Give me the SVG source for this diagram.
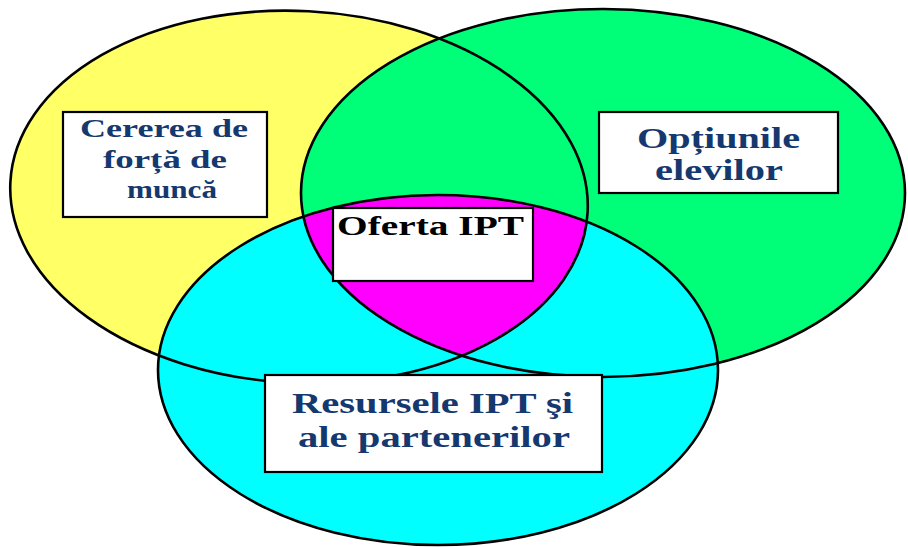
<svg xmlns="http://www.w3.org/2000/svg" width="908" height="547" viewBox="0 0 908 547">
<style>
.ol{fill:none;stroke:#000;stroke-width:2.6}
.box{fill:#fff;stroke:#000;stroke-width:2.2}
.t{font-family:"Liberation Serif","Times New Roman",serif;font-weight:bold;fill:#15386f}
.tk{font-family:"Liberation Serif","Times New Roman",serif;font-weight:bold;fill:#000}
</style>
<defs>
<ellipse id="eY" cx="299" cy="197" rx="289" ry="186" transform="rotate(3 299 197)"/>
<ellipse id="eG" cx="603" cy="193" rx="302" ry="184"/>
<ellipse id="eC" cx="438" cy="370" rx="280" ry="175"/>
<clipPath id="clipY"><use href="#eY"/></clipPath>
<clipPath id="clipG"><use href="#eG"/></clipPath>
</defs>
<rect width="908" height="547" fill="#fff"/>
<g id="circle-yellow"><use href="#eY" fill="#ffff66"/></g>
<g id="circle-green"><use href="#eG" fill="#00ff78"/></g>
<g id="circle-cyan"><use href="#eC" fill="#00ffff"/></g>
<g id="overlap-center" clip-path="url(#clipG)"><g clip-path="url(#clipY)"><use href="#eC" fill="#ff00ff"/></g></g>
<g id="outlines">
<use href="#eY" class="ol"/>
<use href="#eG" class="ol"/>
<use href="#eC" class="ol"/>
</g>
<g id="node-cererea">
<rect class="box" x="63" y="112" width="204" height="105"/>
<text class="t" font-size="26" x="80" y="137" textLength="168" lengthAdjust="spacingAndGlyphs">Cererea de</text>
<text class="t" font-size="26" x="103" y="168" textLength="124" lengthAdjust="spacingAndGlyphs">forță de</text>
<text class="t" font-size="26" x="127" y="198" textLength="90" lengthAdjust="spacingAndGlyphs">muncă</text>
</g>
<g id="node-optiunile">
<rect class="box" x="599" y="112" width="239" height="81"/>
<text class="t" font-size="29" x="637" y="148" textLength="163" lengthAdjust="spacingAndGlyphs">Opțiunile</text>
<text class="t" font-size="29" x="655" y="180" textLength="128" lengthAdjust="spacingAndGlyphs">elevilor</text>
</g>
<g id="node-oferta">
<rect class="box" x="333" y="208" width="200" height="73"/>
<text class="tk" font-size="27" x="337" y="235" textLength="187" lengthAdjust="spacingAndGlyphs">Oferta IPT</text>
</g>
<g id="node-resursele">
<rect class="box" x="265" y="375" width="337" height="97"/>
<text class="t" font-size="29" x="292" y="413" textLength="281" lengthAdjust="spacingAndGlyphs">Resursele IPT şi</text>
<text class="t" font-size="29" x="298" y="447" textLength="272" lengthAdjust="spacingAndGlyphs">ale partenerilor</text>
</g>
</svg>
